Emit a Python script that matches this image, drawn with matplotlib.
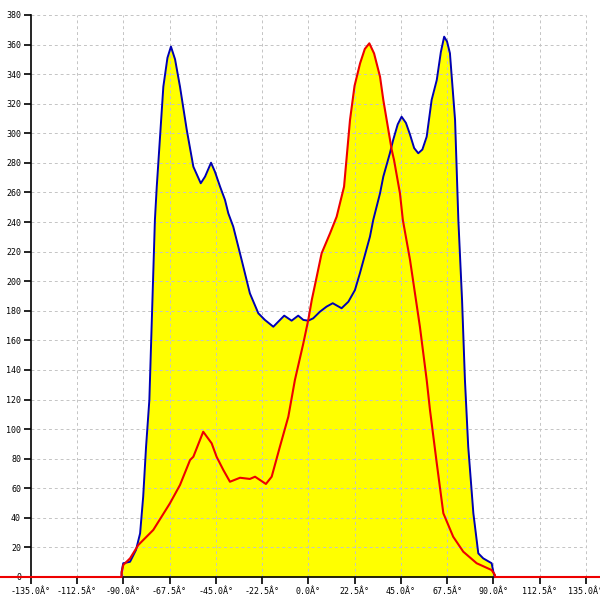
import numpy as np
import matplotlib
matplotlib.use("Agg")
import matplotlib.pyplot as plt

# angle (deg) and counts
blue_x = [-90.8, -90.8, -90.0, -86.7, -83.8, -81.8, -80.3, -78.9, -77.3, -77.0, -74.6, -73.7,
          -72.1, -70.5, -68.5, -66.8, -64.8, -62.4, -59.1, -55.9, -52.3, -50.2, -47.3, -45.4, -42.9, -40.5,
          -38.9, -36.5, -32.4, -28.4, -24.3, -21.1, -17.0, -14.6, -11.7, -8.1, -4.9, -2.4,
          0.0, 2.4, 5.7, 8.9, 11.9, 16.2, 19.5, 22.7, 25.1, 30.0, 31.6, 34.9, 36.5, 39.7,
          41.3, 43.5, 45.4, 47.5, 49.4, 51.5, 53.5, 55.5, 57.6, 60.0, 62.5, 64.5, 66.1, 67.5, 68.9, 71.4, 73.0, 74.8, 76.2,
          77.8, 80.3, 82.7, 85.1, 89.2, 90.0, 90.8]
blue_y = [0, 3.6, 9.3, 10.3, 18.3, 29.5, 54.3, 88.1, 119.7, 133.2, 241.4, 263.9,
          297.7, 331.5, 351.0, 358.6, 350.0, 331.5, 302.2, 277.4, 266.2, 270.7, 280.1, 274.0, 263.9, 254.9,
          245.9, 236.9, 214.3, 191.8, 178.3, 173.8, 169.2, 172.6, 176.7, 173.3, 176.7, 173.8,
          173.3, 174.9, 179.4, 182.8, 185.1, 181.7, 186.1, 194.0, 205.3, 230.1, 241.4, 259.4, 270.7, 286.5,
          295.5, 306.0, 311.2, 307.0, 299.5, 290.0, 286.5, 289.0, 297.7, 322.5, 336.0, 355.0, 365.3, 362.0, 354.1, 309.0, 241.4, 187.3, 133.2,
          88.1, 43.1, 16.0, 12.6, 9.3, 3.6, 0]

red_x = [-150.0, -90.8, -90.8, -90.0, -86.7, -82.7, -75.4, -67.3, -62.4, -57.5, -55.9, -51.1,
         -47.0, -44.6, -41.3, -38.1, -33.2, -28.4, -25.9, -20.6, -17.8, -13.8, -9.7, -6.5,
         -2.4, 0.0, 1.7, 4.1, 6.5, 10.6, 13.8, 17.4, 20.3, 22.5, 25.2, 27.5, 29.7, 32.0, 34.9, 36.5, 40.6,
         41.7, 44.6, 46.0, 49.5, 54.3, 57.6, 59.2, 62.5, 65.7, 70.5, 75.4, 81.9, 89.2, 90.8,
         90.8, 150.0]
red_y = [0, 0, 2.7, 8.1, 12.6, 21.6, 31.8, 49.8, 62.2, 79.1, 81.3, 98.2,
         90.4, 81.3, 72.3, 64.4, 67.1, 66.3, 67.8, 62.9, 67.8, 88.1, 108.4, 133.2,
         158.0, 173.8, 187.3, 203.0, 218.9, 232.4, 243.6, 263.9, 309.0, 332.0, 347.3, 357.0, 360.8, 354.0, 338.3, 322.5, 288.7,
         282.0, 259.4, 241.4, 214.3, 169.2, 133.2, 112.9, 76.9, 43.1, 27.2, 17.1, 9.3, 4.7, 1.4,
         0, 0]

x_ticks = np.arange(-135, 135.1, 22.5)
y_ticks = np.arange(0, 381, 20)

fig = plt.figure(figsize=(6, 6), dpi=100)
ax = fig.add_axes([0, 0, 1, 1])
ax.set_xlim(-149.95, 141.9)
ax.set_ylim(-15.55, 390.1)

ax.fill_between(blue_x, blue_y, color="#FFFF00", lw=0, zorder=1)
ax.fill_between(red_x, red_y, color="#FFFF00", lw=0, zorder=1)

# grid only inside the data box
ax.hlines(y_ticks[1:], -135, 135, colors="#C4C4C4", linestyles=(0, (3, 3)), lw=0.7, zorder=2)
ax.vlines(x_ticks[1:], 0, 380, colors="#C4C4C4", linestyles=(0, (3, 3)), lw=0.7, zorder=2)

ax.plot(blue_x, blue_y, color="#0000B4", lw=1.4, zorder=3, solid_joinstyle="round")
ax.plot(red_x, red_y, color="#EE0000", lw=1.5, zorder=4, solid_joinstyle="round")

ax.spines["left"].set_position(("data", -135))
ax.spines["bottom"].set_position(("data", 0))
ax.spines["left"].set_bounds(0, 380)
ax.spines["bottom"].set_bounds(-135, 135)
ax.spines["right"].set_visible(False)
ax.spines["top"].set_visible(False)
for s in ["left", "bottom"]:
    ax.spines[s].set_linewidth(1.2)

ax.set_xticks(x_ticks)
ax.set_xticklabels([f"{v:.1f}Â°" for v in x_ticks])
ax.set_yticks(y_ticks)
ax.set_yticklabels([str(v) for v in y_ticks])
ax.tick_params(axis="both", direction="out", length=5, width=1.2, pad=2,
               labelsize=6)
for lab in ax.get_xticklabels() + ax.get_yticklabels():
    lab.set_family("DejaVu Sans Mono")

fig.savefig("out.png", dpi=100)
